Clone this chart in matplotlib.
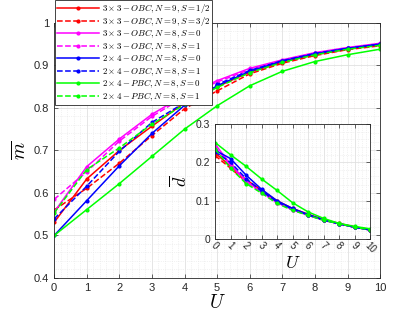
import numpy as np
import matplotlib
matplotlib.use('Agg')
import matplotlib.pyplot as plt
from matplotlib.ticker import MultipleLocator, FormatStrFormatter

plt.rcParams['mathtext.fontset'] = 'cm'
plt.rcParams['font.family'] = ['Liberation Sans', 'DejaVu Sans']

# interaction strength
U = np.arange(0, 11)

labels = [r'$3\times3-OBC, N=9, S=1/2$',
          r'$3\times3-OBC, N=9, S=3/2$',
          r'$3\times3-OBC, N=8, S=0$',
          r'$3\times3-OBC, N=8, S=1$',
          r'$2\times4-OBC, N=8, S=0$',
          r'$2\times4-OBC, N=8, S=1$',
          r'$2\times4-PBC, N=8, S=0$',
          r'$2\times4-PBC, N=8, S=1$']
colors = ['#ff0000', '#ff0000', '#ff00ff', '#ff00ff',
          '#0000ff', '#0000ff', '#00ff00', '#00ff00']
styles = ['-', '--', '-', '--', '-', '--', '-', '--']

# main panel: m-bar
m_r_s = [0.531, 0.633, 0.700, 0.757, 0.812, 0.850, 0.884, 0.908, 0.925, 0.938, 0.948]
m_r_d = [0.560, 0.611, 0.670, 0.735, 0.798, 0.840, 0.880, 0.905, 0.923, 0.937, 0.946]
m_m_s = [0.555, 0.662, 0.727, 0.785, 0.830, 0.864, 0.893, 0.913, 0.930, 0.942, 0.952]
m_m_d = [0.585, 0.650, 0.722, 0.780, 0.826, 0.861, 0.890, 0.911, 0.928, 0.940, 0.950]
m_b_s = [0.500, 0.582, 0.664, 0.740, 0.806, 0.852, 0.886, 0.910, 0.927, 0.940, 0.950]
m_b_d = [0.539, 0.616, 0.698, 0.766, 0.812, 0.855, 0.888, 0.911, 0.928, 0.940, 0.950]
m_g_s = [0.500, 0.561, 0.622, 0.686, 0.750, 0.805, 0.852, 0.886, 0.909, 0.925, 0.938]
m_g_d = [0.553, 0.655, 0.706, 0.762, 0.808, 0.848, 0.883, 0.907, 0.925, 0.938, 0.947]

# inset: d-bar
d_r_s = [0.225, 0.190, 0.155, 0.128, 0.100, 0.080, 0.065, 0.051, 0.041, 0.032, 0.025]
d_r_d = [0.218, 0.185, 0.150, 0.125, 0.098, 0.078, 0.063, 0.050, 0.040, 0.031, 0.024]
d_m_s = [0.248, 0.195, 0.152, 0.123, 0.095, 0.077, 0.062, 0.050, 0.040, 0.031, 0.024]
d_m_d = [0.240, 0.192, 0.150, 0.121, 0.094, 0.076, 0.062, 0.049, 0.040, 0.031, 0.024]
d_b_s = [0.232, 0.210, 0.167, 0.130, 0.100, 0.080, 0.064, 0.050, 0.040, 0.031, 0.024]
d_b_d = [0.228, 0.200, 0.158, 0.125, 0.097, 0.078, 0.063, 0.050, 0.040, 0.031, 0.024]
d_g_s = [0.252, 0.220, 0.190, 0.157, 0.127, 0.095, 0.071, 0.054, 0.041, 0.033, 0.027]
d_g_d = [0.235, 0.185, 0.145, 0.120, 0.093, 0.075, 0.062, 0.049, 0.040, 0.031, 0.024]

m_all = [m_r_s, m_r_d, m_m_s, m_m_d, m_b_s, m_b_d, m_g_s, m_g_d]
d_all = [d_r_s, d_r_d, d_m_s, d_m_d, d_b_s, d_b_d, d_g_s, d_g_d]


def style_axes(ax):
    ax.grid(which='major', color='#e0e0e0', linewidth=0.6)
    ax.grid(which='minor', color='#e6e6e6', linewidth=0.5, linestyle=':')
    ax.set_axisbelow(True)
    for s in ax.spines.values():
        s.set_color('#262626')
        s.set_linewidth(0.6)
    ax.tick_params(which='both', direction='in', top=True, right=True,
                   colors='#262626', labelsize=8, length=3, width=0.5)
    ax.tick_params(which='minor', length=0)
    ax.yaxis.set_major_formatter(FormatStrFormatter('%g'))


fig = plt.figure(figsize=(4.2, 3.15), dpi=100)
ax = fig.add_axes([0.129, 0.1175, 0.776, 0.81])
for y, c, ls, lab in zip(m_all, colors, styles, labels):
    ax.plot(U, y, color=c, linestyle=ls, marker='.', markersize=4,
            linewidth=1.1, label=lab)
ax.set_xlim(0, 10)
ax.set_ylim(0.4, 1.0)
ax.xaxis.set_major_locator(MultipleLocator(1))
ax.yaxis.set_major_locator(MultipleLocator(0.1))
ax.xaxis.set_minor_locator(MultipleLocator(0.2))
ax.yaxis.set_minor_locator(MultipleLocator(0.02))
ax.set_xlabel(r'$U$', fontsize=14, labelpad=1)
ax.set_ylabel(r'$\overline{m}$', fontsize=14, labelpad=3)
style_axes(ax)

leg = fig.legend(loc='upper left', bbox_to_anchor=(0.131, 1.0), fontsize=6.4,
                 frameon=True, fancybox=False, edgecolor='#262626',
                 borderpad=0.2, labelspacing=0.0, handlelength=4.8,
                 handletextpad=0.3, borderaxespad=0, framealpha=1)
leg.get_frame().set_linewidth(0.6)

ins = fig.add_axes([0.512, 0.241, 0.369, 0.365])
for y, c, ls in zip(d_all, colors, styles):
    ins.plot(U, y, color=c, linestyle=ls, marker='.', markersize=4,
             linewidth=1.1)
ins.set_xlim(0, 10)
ins.set_ylim(0, 0.3)
ins.xaxis.set_major_locator(MultipleLocator(1))
ins.yaxis.set_major_locator(MultipleLocator(0.1))
ins.xaxis.set_minor_locator(MultipleLocator(0.25))
ins.yaxis.set_minor_locator(MultipleLocator(0.02))
style_axes(ins)
ins.tick_params(axis='x', labelrotation=-45, labelsize=7, pad=1)
ins.tick_params(axis='y', labelsize=7.5)
ins.set_xlabel(r'$U$', fontsize=13, labelpad=0)
ins.set_ylabel(r'$\overline{d}$', fontsize=13, labelpad=4)

fig.savefig('out.png', dpi=100)
